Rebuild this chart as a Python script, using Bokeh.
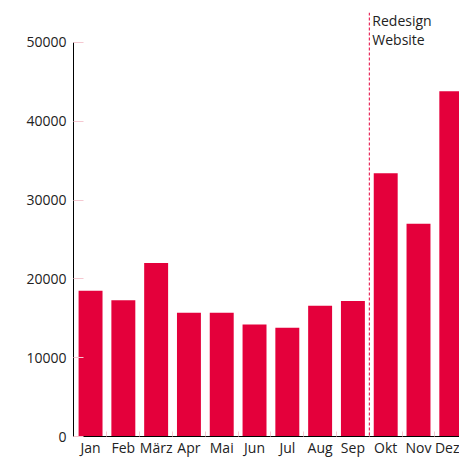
from bokeh.plotting import figure
from bokeh.models import Range1d, FixedTicker, Span, Label
from bokeh.embed import file_html
from bokeh.resources import INLINE

months = ["Jan", "Feb", "März", "Apr", "Mai", "Jun", "Jul", "Aug", "Sep", "Okt", "Nov", "Dez"]
visits = [18500, 17300, 22000, 15700, 15700, 14200, 13800, 16600, 17200, 33400, 27000, 43800]
y_ticks = [0, 10000, 20000, 30000, 40000, 50000]
event_label = "Redesign\nWebsite"
event_after = "Sep"

BAR = "#e4003b"
TICK = "#f5c8d1"
TXT = "#222222"
FONT = "Open Sans"

xs = list(range(len(months)))

p = figure(width=459, height=459, output_backend="svg", toolbar_location=None,
           x_range=Range1d(-0.52, 11.25), y_range=Range1d(0, 53800),
           min_border_left=73, min_border_right=0, min_border_top=12, min_border_bottom=22)
p.outline_line_color = None
p.grid.visible = False

p.vbar(x=xs, top=visits, width=0.73, color=BAR, line_color=None)

# event line between Sep and Okt
ev = months.index(event_after) + 0.5
p.add_layout(Span(location=ev, dimension="height", line_color=BAR, line_width=1, line_dash="3 2"))
p.add_layout(Label(x=ev, y=53800, text=event_label, x_offset=3, y_offset=2, text_baseline="top",
                   text_font=FONT, text_font_size="14px", text_color=TXT, text_line_height=1.05))

# axes
p.xaxis.ticker = FixedTicker(ticks=xs, minor_ticks=[i + 0.5 for i in xs])
p.xaxis.major_label_overrides = {i: m for i, m in enumerate(months)}
p.xaxis.major_tick_line_color = None
p.xaxis.major_tick_in = 0
p.xaxis.major_tick_out = 0
p.xaxis.minor_tick_line_color = TICK
p.xaxis.minor_tick_in = 5
p.xaxis.minor_tick_out = 0
p.xaxis.axis_line_color = "black"
p.xaxis.major_label_standoff = 1
p.xaxis.major_label_text_font = FONT
p.xaxis.major_label_text_font_size = "14px"
p.xaxis.major_label_text_color = TXT

p.yaxis.ticker = FixedTicker(ticks=y_ticks)
p.yaxis.bounds = (0, 50000)
p.yaxis.axis_line_color = "black"
p.yaxis.major_tick_line_color = TICK
p.yaxis.major_tick_in = 10
p.yaxis.major_tick_out = 0
p.yaxis.minor_tick_line_color = None
p.yaxis.major_label_standoff = 7
p.yaxis.major_label_text_font = FONT
p.yaxis.major_label_text_font_size = "14px"
p.yaxis.major_label_text_color = TXT
p.yaxis.formatter.use_scientific = False

open("out.html", "w").write(file_html(p, INLINE))
